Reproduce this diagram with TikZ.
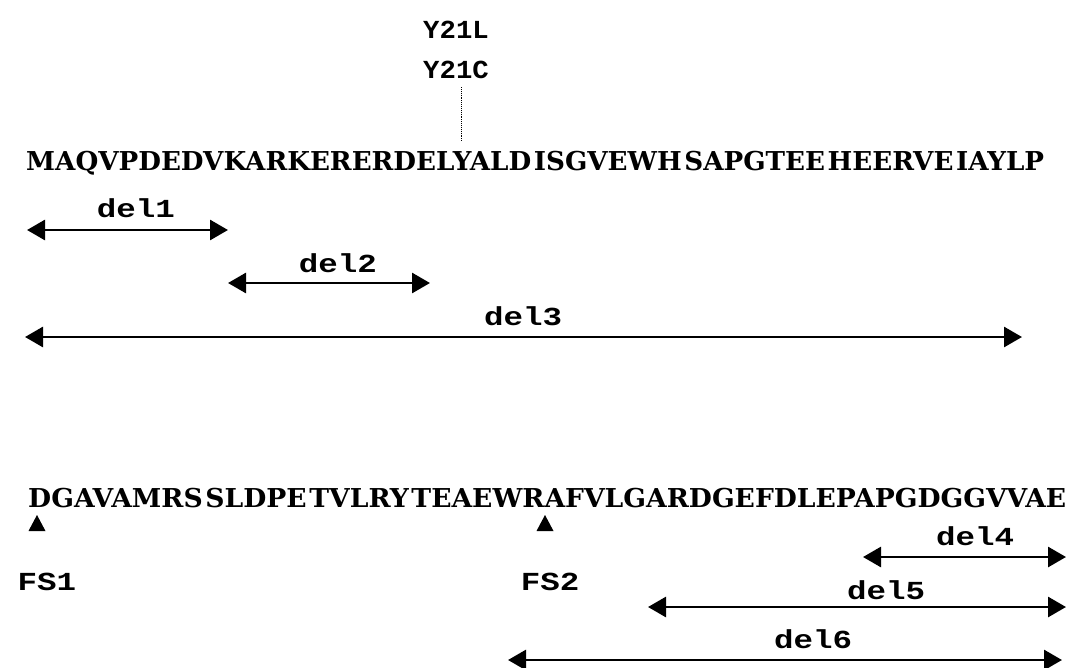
\documentclass[tikz,border=0pt]{standalone}
\usepackage{fontspec}
\usepackage{graphicx}
\usetikzlibrary{arrows.meta}
\newfontfamily\seqfont{DejaVu Serif}
\newfontfamily\labfont{Liberation Mono}
% stretch a residue line to a given width, keeping its height
\newcommand{\fitwidth}[2]{\resizebox{#1}{\height}{#2}}
\newcommand{\widelab}[1]{\scalebox{1.25}[1]{#1}}
\newcommand{\narrowlab}[1]{\scalebox{1.05}[1]{#1}}
\newcommand{\gap}{\hspace{0.1em}}
\tikzset{
  seqline/.style={anchor=base west, inner sep=0pt,
    font=\seqfont\bfseries\fontsize{26}{30}\selectfont},
  lab/.style={anchor=base, inner sep=0pt,
    font=\labfont\bfseries\fontsize{26}{30}\selectfont},
  span/.style={line width=2.8pt,
    {Triangle[length=18pt,width=20pt]}-{Triangle[length=18pt,width=20pt]}},
  sitemark/.style={fill=black, draw=none},
  mutline/.style={line width=0.9pt, densely dotted},
}
\begin{document}
\begin{tikzpicture}[x=1pt,y=-1pt]
\useasboundingbox (0,0) rectangle (1070,667);

% mutation labels above residue 21
\node[lab] (y21l) at (456,38) {\narrowlab{Y21L}};
\node[lab] (y21c) at (456,78) {\narrowlab{Y21C}};
\coordinate (mtop) at (461,87);
\coordinate (mbot) at (461,142);
\draw[mutline] (mtop) -- (mbot);

% first residue block
\node[seqline] (seq1) at (26,170)
  {\fitwidth{1018pt}{MAQVPDEDVKARKERERDELYALD\gap ISGVEWH\gap SAPGTEE\gap HEERVE\gap IAYLP}};

% deletions in the first block
\node[lab] (del1) at (136,217) {\widelab{del1}};
\coordinate (d1a) at (27,230);  \coordinate (d1b) at (228,230);
\draw[span] (d1a) -- (d1b);

\node[lab] (del2) at (338,272) {\widelab{del2}};
\coordinate (d2a) at (228,283); \coordinate (d2b) at (430,283);
\draw[span] (d2a) -- (d2b);

\node[lab] (del3) at (523,325) {\widelab{del3}};
\coordinate (d3a) at (25,337);  \coordinate (d3b) at (1022,337);
\draw[span] (d3a) -- (d3b);

% second residue block
\node[seqline] (seq2) at (28,507)
  {\fitwidth{1038pt}{DGAVAMRS\gap SLDPE\gap TVLRY\gap TEAEWRAFVLGARDGEFDLEPAPGDGGVVAE}};

% frameshift sites
\draw[sitemark] (28.5,531) -- (37,515) -- (45.5,531) -- cycle;
\node[lab] (fs1) at (47,590) {\widelab{FS1}};
\draw[sitemark] (536.5,531) -- (545,515) -- (553.5,531) -- cycle;
\node[lab] (fs2) at (550,590) {\widelab{FS2}};

% deletions in the second block
\node[lab] (del4) at (975,545) {\widelab{del4}};
\coordinate (d4a) at (863,557); \coordinate (d4b) at (1066,557);
\draw[span] (d4a) -- (d4b);

\node[lab] (del5) at (886,599) {\widelab{del5}};
\coordinate (d5a) at (648,607); \coordinate (d5b) at (1066,607);
\draw[span] (d5a) -- (d5b);

\node[lab] (del6) at (813,648) {\widelab{del6}};
\coordinate (d6a) at (508,660); \coordinate (d6b) at (1062,660);
\draw[span] (d6a) -- (d6b);
\end{tikzpicture}
\end{document}
